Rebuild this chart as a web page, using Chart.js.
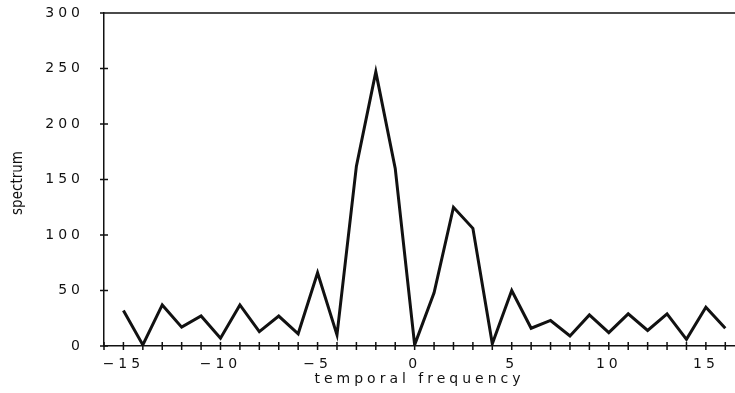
<!DOCTYPE html>
<html>
<head>
<meta charset="utf-8">
<script src="https://cdn.jsdelivr.net/npm/chart.js@4/dist/chart.umd.min.js"></script>
<style>
    html, body { margin: 0; padding: 0; background: #fff; }
</style>
</head>
<body>
<canvas id="chart-spectrum" width="735" height="393"></canvas>
<script>
// data
const frequencies = [-15, -14, -13, -12, -11, -10, -9, -8, -7, -6, -5, -4, -3, -2, -1, 0,
    1, 2, 3, 4, 5, 6, 7, 8, 9, 10, 11, 12, 13, 14, 15, 16];
const spectrum = [32, 1, 37, 17, 27, 7, 37, 13, 27, 11, 66, 10, 162, 247, 160, 1,
    48, 125, 106, 2, 50, 16, 23, 9, 28, 12, 29, 14, 29, 6, 35, 16];
const xTickLabels = [-15, -10, -5, 0, 5, 10, 15];
const yTickLabels = [0, 50, 100, 150, 200, 250, 300];

const ink = '#111';
const tickFont = {family: 'DejaVu Sans', size: 14};

// wide plotter-like lettering for tick labels
const spacing = {
    id: 'spacing',
    beforeLayout(chart) { chart.ctx.letterSpacing = '4px'; },
    beforeDraw(chart) { chart.ctx.letterSpacing = '4px'; }
};

// cross ticks, top frame line and the narrow y title
const frame = {
    id: 'frame',
    afterDraw(chart) {
        const {ctx, chartArea} = chart;
        const x = chart.scales.x;
        const y = chart.scales.y;
        ctx.save();
        ctx.strokeStyle = ink;
        ctx.lineWidth = 1.5;
        ctx.beginPath();
        ctx.moveTo(chartArea.left, chartArea.top);
        ctx.lineTo(chartArea.right, chartArea.top);
        x.ticks.forEach(t => {
            const px = x.getPixelForValue(t.value);
            ctx.moveTo(px, chartArea.bottom - 4);
            ctx.lineTo(px, chartArea.bottom + 4);
        });
        y.ticks.forEach(t => {
            const py = y.getPixelForValue(t.value);
            ctx.moveTo(chartArea.left - 4, py);
            ctx.lineTo(chartArea.left + 4, py);
        });
        ctx.stroke();

        ctx.letterSpacing = '0px';
        ctx.fillStyle = ink;
        ctx.font = '15px "Liberation Sans Narrow", "DejaVu Sans Condensed", sans-serif';
        ctx.textAlign = 'center';
        ctx.textBaseline = 'middle';
        ctx.translate(18, 183);
        ctx.rotate(-Math.PI / 2);
        ctx.fillText('spectrum', 0, 0);
        ctx.restore();
    }
};

new Chart(document.getElementById('chart-spectrum'), {
    type: 'line',
    data: {
        datasets: [{
            data: frequencies.map((f, i) => ({x: f, y: spectrum[i]})),
            borderColor: ink,
            borderWidth: 3,
            pointRadius: 0,
            tension: 0,
            fill: false
        }]
    },
    options: {
        responsive: false,
        devicePixelRatio: 1,
        animation: false,
        layout: {padding: {top: 13, right: 0, left: 0, bottom: 0}},
        plugins: {
            legend: {display: false},
            tooltip: {enabled: false}
        },
        scales: {
            x: {
                type: 'linear',
                min: -16,
                max: 16.5,
                afterBuildTicks: scale => {
                    const ticks = [];
                    for (let v = -16; v <= 16; v++) ticks.push({value: v});
                    scale.ticks = ticks;
                },
                afterFit: scale => {
                    scale.height = 47;
                    scale.paddingRight = 0;
                },
                grid: {display: false},
                border: {display: true, color: ink, width: 1.5},
                ticks: {
                    color: ink,
                    font: tickFont,
                    padding: 2,
                    maxRotation: 0,
                    autoSkip: false,
                    callback: v => xTickLabels.includes(v) ? (v < 0 ? '\u2212' + Math.abs(v) : String(v)) : ''
                },
                title: {
                    display: true,
                    text: 'temporal frequency',
                    color: ink,
                    font: tickFont,
                    padding: {top: 0, bottom: 5}
                }
            },
            y: {
                min: 0,
                max: 300,
                afterBuildTicks: scale => {
                    scale.ticks = yTickLabels.map(v => ({value: v}));
                },
                afterFit: scale => {
                    scale.width = 104;
                    scale.paddingTop = 0;
                    scale.paddingBottom = 0;
                },
                grid: {display: false},
                border: {display: true, color: ink, width: 1.5},
                ticks: {
                    color: ink,
                    font: tickFont,
                    padding: 12
                }
            }
        }
    },
    plugins: [spacing, frame]
});
</script>
</body>
</html>
